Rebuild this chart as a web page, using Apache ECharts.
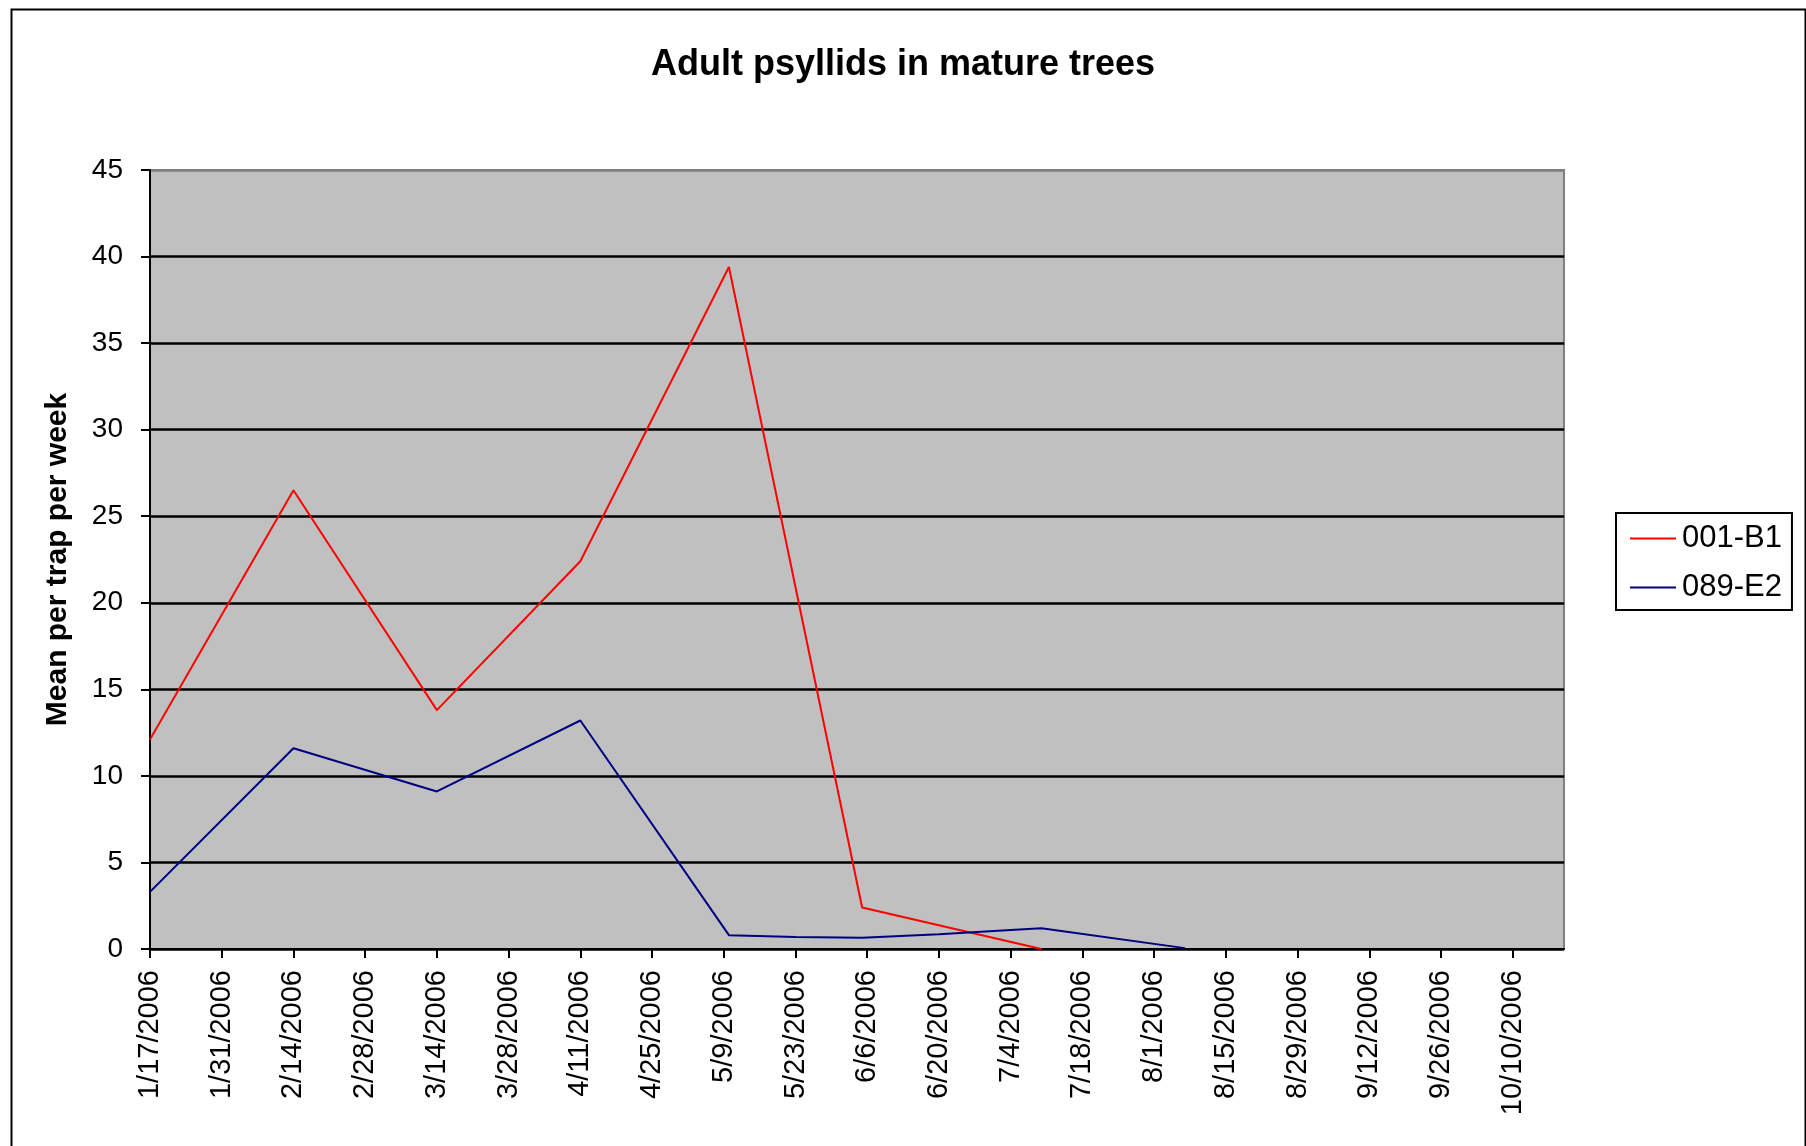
<!DOCTYPE html>
<html>
<head>
<meta charset="utf-8">
<script src="https://cdn.jsdelivr.net/npm/echarts@6/dist/echarts.min.js"></script>
<style>
html,body{margin:0;padding:0;background:#fff;}
#chart{width:1806px;height:1146px;}
</style>
</head>
<body>
<div id="chart"></div>
<script>
// ---- data ----
const titleText = 'Adult psyllids in mature trees';
const yAxisName = 'Mean per trap per week';
const seriesNames = ['001-B1', '089-E2'];
const startDate = '1/17/2006';
const tickDays = 14;
const spanDays = 276;
const yTicks = [0, 5, 10, 15, 20, 25, 30, 35, 40, 45];

const redDates  = ['1/17/2006','2/14/2006','3/14/2006','4/11/2006','5/10/2006','6/5/2006','7/10/2006'];
const redValues = [12.1, 26.5, 13.8, 22.4, 39.4, 2.4, 0];

const blueDates  = ['1/17/2006','2/14/2006','3/14/2006','4/11/2006','5/10/2006','5/23/2006','6/5/2006','6/20/2006','7/4/2006','7/10/2006','8/7/2006'];
const blueValues = [3.3, 11.6, 9.1, 13.2, 0.8, 0.7, 0.65, 0.85, 1.1, 1.2, 0.05];

// ---- helpers ----
const DAY = 86400000;
function toUTC(s){ const p = s.split('/'); return Date.UTC(+p[2], +p[0]-1, +p[1]); }
const base = toUTC(startDate);
function dayOffset(s){ return Math.round((toUTC(s) - base) / DAY); }
function fmt(v){
  const d = new Date(base + v * DAY);
  return (d.getUTCMonth()+1) + '/' + d.getUTCDate() + '/' + d.getUTCFullYear();
}
function pairs(dates, vals){ return dates.map((d,i) => [dayOffset(d), vals[i]]); }

// split line colours: black everywhere except the top edge (grey plot border)
const splitColors = yTicks.map((t, i) => (i === yTicks.length - 1 ? '#808080' : '#000'));

const FONT = '"Liberation Sans", Arial, sans-serif';
const chart = echarts.init(document.getElementById('chart'));
chart.setOption({
  animation: false,
  backgroundColor: '#ffffff',
  textStyle: { fontFamily: FONT, color: '#000' },
  title: {
    text: titleText, left: 'center', top: 42,
    textStyle: { fontFamily: FONT, fontSize: 36, fontWeight: 'bold', color: '#000' }
  },
  graphic: [{
    type: 'rect', left: 9, top: 7, silent: true,
    shape: { width: 1794, height: 1200 },
    style: { fill: 'none', stroke: '#000', lineWidth: 2 }
  }],
  legend: {
    orient: 'vertical', left: 1616, top: 513,
    padding: [10, 10, 7, 14], itemGap: 18,
    itemWidth: 46, itemHeight: 2, icon: 'rect',
    borderColor: '#000', borderWidth: 2, backgroundColor: '#fff',
    textStyle: { fontFamily: FONT, fontSize: 31, lineHeight: 30, color: '#000', padding: [0,0,0,1] },
    data: seriesNames
  },
  grid: {
    left: 150, top: 170, right: 242, bottom: 197, show: true,
    backgroundColor: '#C0C0C0', borderColor: '#808080', borderWidth: 2
  },
  xAxis: {
    type: 'value', min: 0, max: spanDays, interval: tickDays,
    axisLine: { show: true, lineStyle: { color: '#000', width: 2 } },
    axisTick: { show: true, length: 9, lineStyle: { color: '#000', width: 2 } },
    splitLine: { show: false },
    axisLabel: {
      rotate: 90, margin: 21, fontSize: 29, fontFamily: FONT, color: '#000',
      showMaxLabel: false,
      formatter: v => (v % tickDays === 0 ? fmt(v) : '')
    }
  },
  yAxis: {
    type: 'value', min: yTicks[0], max: yTicks[yTicks.length-1], interval: yTicks[1]-yTicks[0],
    name: yAxisName, nameLocation: 'middle', nameRotate: 90, nameGap: 77,
    nameTextStyle: { fontFamily: FONT, fontSize: 30, fontWeight: 'bold', color: '#000' },
    axisLine: { show: true, lineStyle: { color: '#000', width: 2 } },
    axisTick: { show: true, length: 9, lineStyle: { color: '#000', width: 2 } },
    splitLine: { show: true, lineStyle: { color: splitColors, width: 2.5 } },
    axisLabel: { margin: 27, fontSize: 28, fontFamily: FONT, color: '#000' }
  },
  series: [
    { name: seriesNames[0], type: 'line', data: pairs(redDates, redValues),
      symbol: 'none', color: '#FF0000', lineStyle: { color: '#FF0000', width: 2 } },
    { name: seriesNames[1], type: 'line', data: pairs(blueDates, blueValues),
      symbol: 'none', color: '#000080', lineStyle: { color: '#000080', width: 2 } }
  ]
});
</script>
</body>
</html>
